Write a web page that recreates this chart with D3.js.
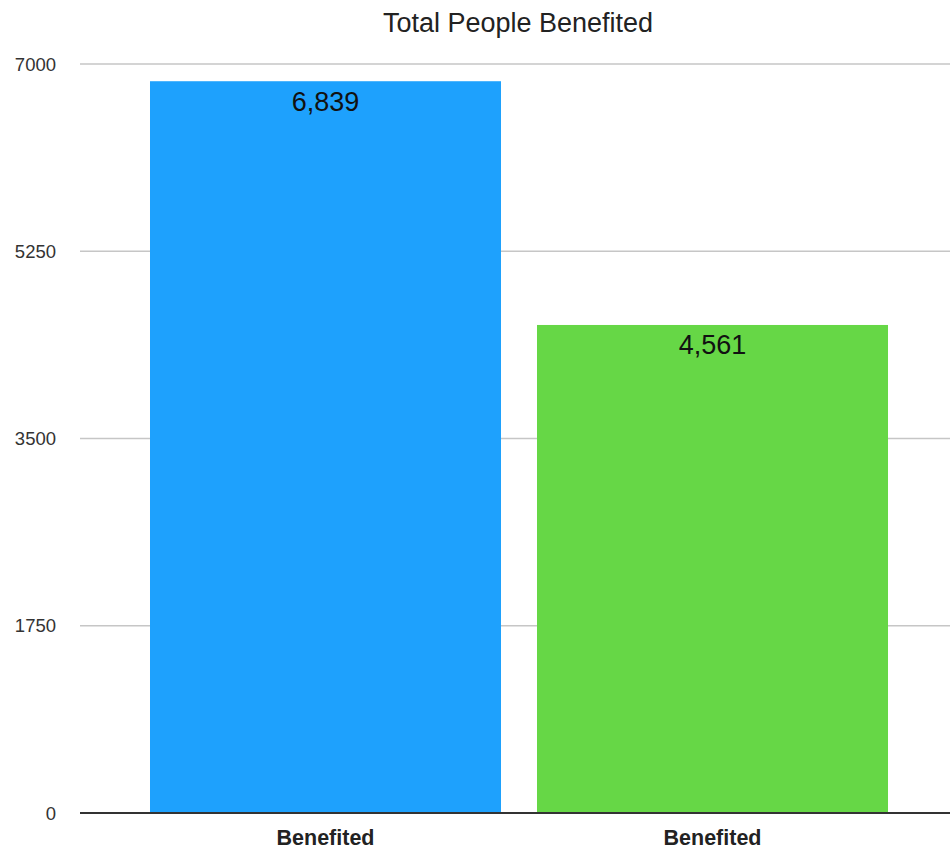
<!DOCTYPE html>
<html><head><meta charset="utf-8">
<script src="https://cdn.jsdelivr.net/npm/d3@7"></script>
<style>body{margin:0;background:#fff}svg{display:block;font-family:"Liberation Sans",Arial,Helvetica,sans-serif}</style>
</head><body>
<svg id="c" width="950" height="849"></svg>
<script>
const categories = ["Benefited", "Benefited"];
const values = [6839, 4561];
const colors = ["#1ea1fd", "#66d746"];
const yTicks = [0, 1750, 3500, 5250, 7000];
const title = "Total People Benefited";

const svg = d3.select("#c");
const x = d3.scaleBand().domain(d3.range(categories.length)).range([132, 906]).paddingInner(0.093).paddingOuter(0.0465);
const y = d3.scaleLinear().domain([0, 7000]).range([813, 64]);

// gridlines
svg.append("g").selectAll("line").data(yTicks.filter(d => d > 0)).join("line")
  .attr("x1", 80).attr("x2", 950)
  .attr("y1", d => y(d)).attr("y2", d => y(d))
  .attr("stroke", "#c6c6c6").attr("stroke-width", 1.3);

// tick labels
svg.append("g").selectAll("text").data(yTicks).join("text")
  .attr("x", 56).attr("y", d => y(d)).attr("dy", "0.36em")
  .attr("text-anchor", "end").attr("font-size", 18.5).attr("fill", "#333")
  .text(d => d);

// bars
svg.append("g").selectAll("rect").data(values).join("rect")
  .attr("x", (d, i) => x(i)).attr("width", x.bandwidth())
  .attr("y", d => y(d)).attr("height", d => y(0) - y(d))
  .attr("fill", (d, i) => colors[i]);

// baseline
svg.append("line").attr("x1", 80).attr("x2", 950).attr("y1", y(0)).attr("y2", y(0))
  .attr("stroke", "#333").attr("stroke-width", 2);

// value labels
svg.append("g").selectAll("text").data(values).join("text")
  .attr("x", (d, i) => x(i) + x.bandwidth() / 2).attr("y", d => y(d) + 29.5)
  .attr("text-anchor", "middle").attr("font-size", 27).attr("fill", "#111")
  .text(d => d3.format(",")(d));

// category labels
svg.append("g").selectAll("text").data(categories).join("text")
  .attr("x", (d, i) => x(i) + x.bandwidth() / 2).attr("y", 845)
  .attr("text-anchor", "middle").attr("font-size", 21.5).attr("font-weight", "bold").attr("fill", "#222")
  .text(d => d);

// title
svg.append("text").attr("x", 518).attr("y", 32).attr("text-anchor", "middle")
  .attr("font-size", 27).attr("fill", "#222").text(title);
</script>
</body></html>
